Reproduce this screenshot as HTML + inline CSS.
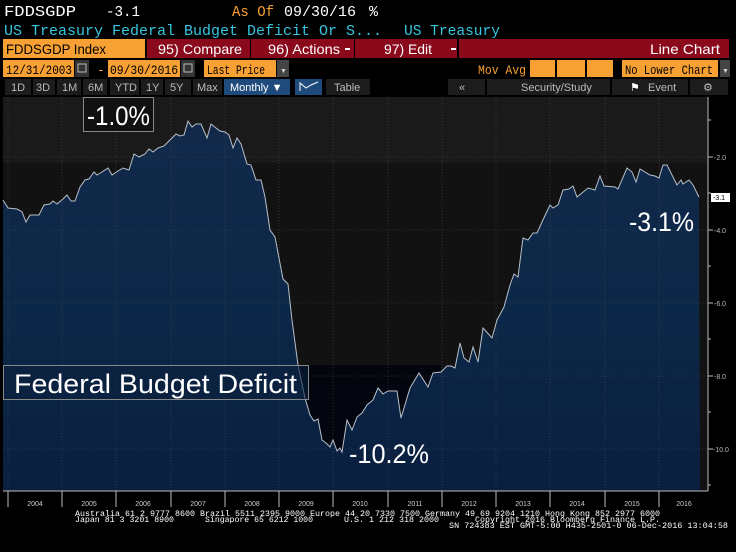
<!DOCTYPE html>
<html><head><meta charset="utf-8"><style>
html,body{margin:0;padding:0;background:#000;}
svg{display:block}
</style></head><body>
<svg width="736" height="552" viewBox="0 0 736 552" xmlns="http://www.w3.org/2000/svg" font-family="Liberation Sans, sans-serif">
<rect width="736" height="552" fill="#000"/>
<!-- header -->
<g font-family="Liberation Mono, monospace" font-size="15">
<text x="4" y="16" fill="#fff" textLength="72" lengthAdjust="spacingAndGlyphs">FDDSGDP</text>
<text x="106" y="16" fill="#fff" textLength="34" lengthAdjust="spacingAndGlyphs">-3.1</text>
<text x="232" y="16" fill="#f7a033" textLength="42" lengthAdjust="spacingAndGlyphs">As Of</text>
<text x="284" y="16" fill="#fff" textLength="72" lengthAdjust="spacingAndGlyphs">09/30/16</text>
<text x="369" y="16" fill="#fff">%</text>
<text x="4" y="35" fill="#36c6e0" textLength="378" lengthAdjust="spacingAndGlyphs">US Treasury Federal Budget Deficit Or S...</text>
<text x="404" y="35" fill="#36c6e0" textLength="96" lengthAdjust="spacingAndGlyphs">US Treasury</text>
</g>
<!-- row3 -->
<rect x="3" y="39" width="142" height="19" fill="#f7a033"/>
<rect x="147" y="39" width="103" height="19" fill="#8a0a1c"/>
<rect x="251" y="39" width="103" height="19" fill="#8a0a1c"/>
<rect x="355" y="39" width="102" height="19" fill="#8a0a1c"/>
<rect x="459" y="39" width="270" height="19" fill="#8a0a1c"/>
<g font-size="14">
<text x="6" y="54" fill="#000" textLength="100" lengthAdjust="spacingAndGlyphs">FDDSGDP Index</text>
<text x="158" y="54" fill="#fff" textLength="84" lengthAdjust="spacingAndGlyphs">95) Compare</text>
<text x="268" y="54" fill="#fff" textLength="72" lengthAdjust="spacingAndGlyphs">96) Actions</text>
<text x="384" y="54" fill="#fff" textLength="48" lengthAdjust="spacingAndGlyphs">97) Edit</text>
<text x="650" y="54" fill="#fff" textLength="70" lengthAdjust="spacingAndGlyphs">Line Chart</text>
</g>
<rect x="345" y="48" width="5" height="2" fill="#fff"/><rect x="451" y="48" width="5" height="2" fill="#fff"/>
<!-- row4 -->
<rect x="3" y="60" width="71" height="17" fill="#f7a033"/>
<rect x="75" y="60" width="14" height="17" fill="#333"/>
<rect x="108" y="60" width="72" height="17" fill="#f7a033"/>
<rect x="181" y="60" width="14" height="17" fill="#333"/>
<rect x="204" y="60" width="72" height="17" fill="#f7a033"/>
<rect x="277" y="60" width="12" height="17" fill="#444"/>
<rect x="530" y="60" width="25" height="17" fill="#f7a033"/>
<rect x="557" y="60" width="28" height="17" fill="#f7a033"/>
<rect x="587" y="60" width="26" height="17" fill="#f7a033"/>
<rect x="622" y="60" width="96" height="17" fill="#f7a033"/>
<rect x="720" y="60" width="10" height="17" fill="#444"/>
<g font-family="Liberation Mono, monospace" font-size="13">
<text x="6" y="74" fill="#000" textLength="66" lengthAdjust="spacingAndGlyphs">12/31/2003</text>
<text x="97" y="74" fill="#f7a033">-</text>
<text x="110" y="74" fill="#000" textLength="68" lengthAdjust="spacingAndGlyphs">09/30/2016</text>
<text x="207" y="74" fill="#000" textLength="58" lengthAdjust="spacingAndGlyphs">Last Price</text>
<text x="478" y="74" fill="#f7a033" textLength="48" lengthAdjust="spacingAndGlyphs">Mov Avg</text>
<text x="625" y="74" fill="#000" textLength="88" lengthAdjust="spacingAndGlyphs">No Lower Chart</text>
</g>
<rect x="78" y="64" width="8" height="8" fill="none" stroke="#bbb"/><rect x="184" y="64" width="8" height="8" fill="none" stroke="#bbb"/>
<text x="280" y="73" fill="#ccc" font-size="7">▼</text><text x="722" y="73" fill="#ccc" font-size="7">▼</text>
<!-- row5 -->
<g fill="#1c1c1c">
<rect x="5" y="79" width="26" height="16"/><rect x="33" y="79" width="22" height="16"/><rect x="57" y="79" width="24" height="16"/>
<rect x="83" y="79" width="24" height="16"/><rect x="110" y="79" width="29" height="16"/><rect x="141" y="79" width="22" height="16"/>
<rect x="165" y="79" width="26" height="16"/><rect x="193" y="79" width="29" height="16"/><rect x="326" y="79" width="44" height="16"/>
<rect x="448" y="79" width="37" height="16"/><rect x="487" y="79" width="123" height="16"/><rect x="612" y="79" width="76" height="16"/><rect x="690" y="79" width="38" height="16"/>
</g>
<rect x="224" y="79" width="66" height="16" fill="#1f4b7c"/>
<rect x="295" y="79" width="27" height="16" fill="#1f4b7c"/>
<g font-size="11" fill="#bbb">
<text x="11" y="91">1D</text><text x="36" y="91">3D</text><text x="62" y="91">1M</text><text x="88" y="91">6M</text>
<text x="115" y="91">YTD</text><text x="146" y="91">1Y</text><text x="170" y="91">5Y</text><text x="197" y="91">Max</text>
<text x="230" y="91" fill="#fff">Monthly ▼</text><text x="334" y="91">Table</text>
<text x="459" y="91">«</text><text x="521" y="91">Security/Study</text><text x="648" y="91">Event</text><text x="703" y="91">⚙</text>
<text x="630" y="91" fill="#fff">⚑</text>
</g>
<polyline points="300,91 300,83 306,88 311,85 318,82" fill="none" stroke="#fff" stroke-width="1"/>
<!-- chart area -->
<rect x="3" y="97" width="705" height="394" fill="#121212"/>
<rect x="3" y="97" width="705" height="66" fill="#1a1a1a"/>
<rect x="3" y="365" width="438" height="126" fill="#03060f"/>
<defs><linearGradient id="g" x1="0" y1="0" x2="0" y2="1">
<stop offset="0" stop-color="#12294a"/><stop offset="0.5" stop-color="#0c2848"/><stop offset="1" stop-color="#0a1f40"/></linearGradient></defs>
<polygon fill="url(#g)" points="3,491 3,200 8,208 17,209 22,212 26,222 30,215 39,215 44,205 50,204 53,201 57,204 63,199 67,195 71,201 75,201 80,187 85,180 89,179 94,172 97,175 102,172 108,168 112,175 118,171 123,168 129,170 134,154 139,157 145,154 149,149 153,152 158,148 164,146 170,140 176,134 180,136 184,135 188,121 192,127 196,124 201,124 207,138 211,124 216,128 220,131 225,132 229,135 233,148 237,138 241,144 247,164 251,165 256,180 261,180 265,197 270,230 275,237 283,279 288,284 292,320 298,365 305,398 310,415 314,421 318,419 322,440 326,443 330,447 333,440 337,451 340,448 342,452 347,420 352,430 357,417 362,413 367,405 373,400 378,388 383,394 388,391 397,391 401,418 410,388 419,373 428,387 433,373 441,372 447,366 451,366 455,368 460,343 464,358 469,362 473,347 478,362 483,328 492,338 497,320 504,307 510,285 514,274 518,277 523,238 528,240 533,233 537,233 542,222 550,205 553,208 558,205 563,190 569,189 573,186 577,197 588,188 595,190 600,176 604,186 615,187 618,189 627,168 632,172 636,182 640,169 650,175 655,176 659,178 663,165 667,165 677,185 681,180 683,184 689,180 693,185 699,197 700,491"/>
<!-- grid -->
<g stroke="#555" stroke-width="0.6" stroke-dasharray="1,2" opacity="0.8">
<line x1="3" y1="157" x2="708" y2="157"/><line x1="3" y1="230" x2="708" y2="230"/><line x1="3" y1="303" x2="708" y2="303"/>
<line x1="3" y1="376" x2="708" y2="376"/><line x1="3" y1="449" x2="708" y2="449"/>
<line x1="8" y1="97" x2="8" y2="491"/><line x1="62" y1="97" x2="62" y2="491"/><line x1="116" y1="97" x2="116" y2="491"/>
<line x1="171" y1="97" x2="171" y2="491"/><line x1="225" y1="97" x2="225" y2="491"/><line x1="279" y1="97" x2="279" y2="491"/>
<line x1="333" y1="97" x2="333" y2="491"/><line x1="388" y1="97" x2="388" y2="491"/><line x1="442" y1="97" x2="442" y2="491"/>
<line x1="496" y1="97" x2="496" y2="491"/><line x1="550" y1="97" x2="550" y2="491"/><line x1="605" y1="97" x2="605" y2="491"/>
<line x1="659" y1="97" x2="659" y2="491"/>
</g>
<polyline fill="none" stroke="#b8c0c8" stroke-width="1" points="3,200 8,208 17,209 22,212 26,222 30,215 39,215 44,205 50,204 53,201 57,204 63,199 67,195 71,201 75,201 80,187 85,180 89,179 94,172 97,175 102,172 108,168 112,175 118,171 123,168 129,170 134,154 139,157 145,154 149,149 153,152 158,148 164,146 170,140 176,134 180,136 184,135 188,121 192,127 196,124 201,124 207,138 211,124 216,128 220,131 225,132 229,135 233,148 237,138 241,144 247,164 251,165 256,180 261,180 265,197 270,230 275,237 283,279 288,284 292,320 298,365 305,398 310,415 314,421 318,419 322,440 326,443 330,447 333,440 337,451 340,448 342,452 347,420 352,430 357,417 362,413 367,405 373,400 378,388 383,394 388,391 397,391 401,418 410,388 419,373 428,387 433,373 441,372 447,366 451,366 455,368 460,343 464,358 469,362 473,347 478,362 483,328 492,338 497,320 504,307 510,285 514,274 518,277 523,238 528,240 533,233 537,233 542,222 550,205 553,208 558,205 563,190 569,189 573,186 577,197 588,188 595,190 600,176 604,186 615,187 618,189 627,168 632,172 636,182 640,169 650,175 655,176 659,178 663,165 667,165 677,185 681,180 683,184 689,180 693,185 699,197"/>
<!-- axes -->
<line x1="708" y1="97" x2="708" y2="491" stroke="#bbb" stroke-width="1"/>
<line x1="3" y1="491" x2="708" y2="491" stroke="#bbb" stroke-width="1"/>
<g stroke="#bbb" stroke-width="1">
<line x1="708" y1="120" x2="711" y2="120"/><line x1="708" y1="157" x2="713" y2="157"/><line x1="708" y1="193" x2="711" y2="193"/>
<line x1="708" y1="230" x2="713" y2="230"/><line x1="708" y1="266" x2="711" y2="266"/><line x1="708" y1="303" x2="713" y2="303"/>
<line x1="708" y1="339" x2="711" y2="339"/><line x1="708" y1="376" x2="713" y2="376"/><line x1="708" y1="412" x2="711" y2="412"/>
<line x1="708" y1="449" x2="713" y2="449"/><line x1="708" y1="485" x2="711" y2="485"/>
<line x1="8" y1="491" x2="8" y2="507"/><line x1="62" y1="491" x2="62" y2="507"/><line x1="116" y1="491" x2="116" y2="507"/>
<line x1="171" y1="491" x2="171" y2="507"/><line x1="225" y1="491" x2="225" y2="507"/><line x1="279" y1="491" x2="279" y2="507"/>
<line x1="333" y1="491" x2="333" y2="507"/><line x1="388" y1="491" x2="388" y2="507"/><line x1="442" y1="491" x2="442" y2="507"/>
<line x1="496" y1="491" x2="496" y2="507"/><line x1="550" y1="491" x2="550" y2="507"/><line x1="605" y1="491" x2="605" y2="507"/>
<line x1="659" y1="491" x2="659" y2="507"/>
</g>
<g font-size="7" fill="#bbb">
<text x="714" y="160">-2.0</text><text x="714" y="233">-4.0</text><text x="714" y="306">-6.0</text>
<text x="714" y="379">-8.0</text><text x="713" y="452">-10.0</text>
</g>
<rect x="711" y="193" width="19" height="9" fill="#fff"/>
<text x="713" y="200" font-size="7" fill="#000">-3.1</text>
<g font-size="7" fill="#ccc" text-anchor="middle">
<text x="35" y="506">2004</text><text x="89" y="506">2005</text><text x="143" y="506">2006</text><text x="198" y="506">2007</text>
<text x="252" y="506">2008</text><text x="306" y="506">2009</text><text x="360" y="506">2010</text><text x="415" y="506">2011</text>
<text x="469" y="506">2012</text><text x="523" y="506">2013</text><text x="577" y="506">2014</text><text x="632" y="506">2015</text>
<text x="684" y="506">2016</text>
</g>
<!-- annotations -->
<rect x="83.5" y="97.5" width="70" height="34" fill="#111" stroke="#888"/>
<text x="87" y="125" font-size="27" fill="#fff" textLength="63" lengthAdjust="spacingAndGlyphs">-1.0%</text>
<rect x="3.5" y="365.5" width="305" height="34" fill="#0a1f3d" fill-opacity="0.6" stroke="#888"/>
<text x="14" y="393" font-size="27" fill="#fff" textLength="283" lengthAdjust="spacingAndGlyphs">Federal Budget Deficit</text>
<text x="349" y="463" font-size="27" fill="#fff" textLength="80" lengthAdjust="spacingAndGlyphs">-10.2%</text>
<text x="629" y="231" font-size="27" fill="#fff" textLength="65" lengthAdjust="spacingAndGlyphs">-3.1%</text>
<!-- footer -->
<g font-family="Liberation Mono, monospace" font-size="8" fill="#fff">
<text x="75" y="516" textLength="585" lengthAdjust="spacingAndGlyphs">Australia 61 2 9777 8600 Brazil 5511 2395 9000 Europe 44 20 7330 7500 Germany 49 69 9204 1210 Hong Kong 852 2977 6000</text>
<text x="75" y="522" textLength="99" lengthAdjust="spacingAndGlyphs">Japan 81 3 3201 8900</text>
<text x="205" y="522" textLength="108" lengthAdjust="spacingAndGlyphs">Singapore 65 6212 1000</text>
<text x="344" y="522" textLength="95" lengthAdjust="spacingAndGlyphs">U.S. 1 212 318 2000</text>
<text x="475" y="522" textLength="185" lengthAdjust="spacingAndGlyphs">Copyright 2016 Bloomberg Finance L.P.</text>
<text x="449" y="528" textLength="279" lengthAdjust="spacingAndGlyphs">SN 724383 EST  GMT-5:00 H435-2501-0 06-Dec-2016 13:04:58</text>
</g>
</svg>
</body></html>
